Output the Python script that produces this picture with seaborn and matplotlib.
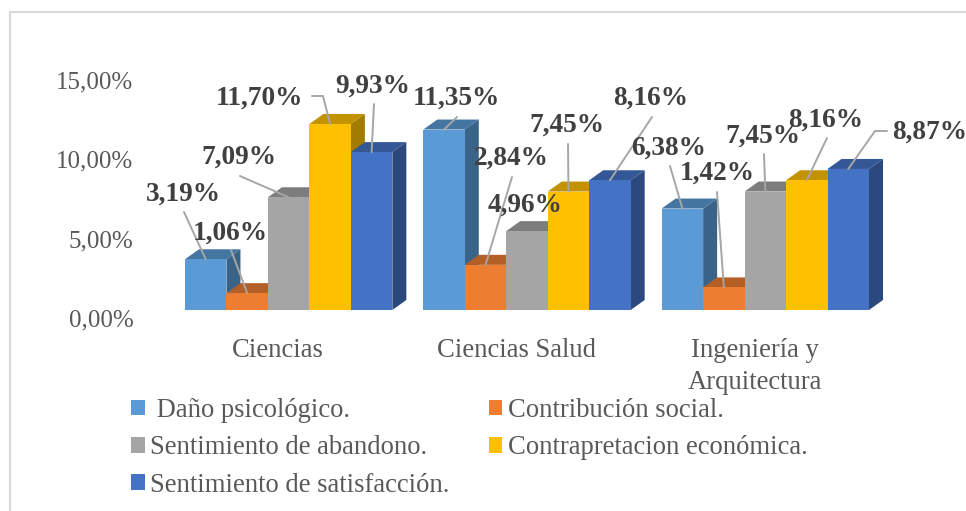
import matplotlib
matplotlib.use("Agg")
import matplotlib.pyplot as plt
import pandas as pd
import seaborn as sns
from matplotlib.lines import Line2D
from matplotlib.patches import Patch, Polygon
from matplotlib.transforms import IdentityTransform, ScaledTranslation

categories = ["Ciencias", "Ciencias Salud", "Ingeniería y\nArquitectura"]
series_names = ["Daño psicológico.", "Contribución social.", "Sentimiento de abandono.",
                "Contrapretacion económica.", "Sentimiento de satisfacción."]
dano = [3.19, 11.35, 6.38]
contribucion = [1.06, 2.84, 1.42]
abandono = [7.09, 4.96, 7.45]
contraprestacion = [11.70, 7.45, 8.16]
satisfaccion = [9.93, 8.16, 8.87]
y_ticks = [0, 5, 10, 15]
y_tick_labels = ["0,00%", "5,00%", "10,00%", "15,00%"]

colors = ["#5B9BD5", "#ED7D31", "#A5A5A5", "#FFC000", "#4472C4"]

W, H = 966, 511
FONT = "Liberation Serif"

sns.set_theme(style="white")
plt.rcParams["font.family"] = [FONT, "DejaVu Sans"]

df = pd.DataFrame({"cat": categories, series_names[0]: dano, series_names[1]: contribucion,
                   series_names[2]: abandono, series_names[3]: contraprestacion,
                   series_names[4]: satisfaccion})
long_df = df.melt(id_vars="cat", var_name="serie", value_name="valor")

fig = plt.figure(figsize=(W / 100, H / 100), dpi=100, facecolor="white")
ax = fig.add_axes([169.5 / W, (H - 310) / H, 715 / W, 238.5 / H])
sns.barplot(data=long_df, x="cat", y="valor", hue="serie", hue_order=series_names,
            order=categories, palette=colors, saturation=1, width=0.87, gap=0,
            legend=False, linewidth=0, ax=ax)
ax.set_xlim(-0.5, 2.5)
ax.set_ylim(0, 15)
ax.set_xlabel("")
ax.set_ylabel("")
sns.despine(ax=ax, left=True, bottom=True)
ax.set_yticks(y_ticks, y_tick_labels)
ax.tick_params(axis="both", length=0, labelcolor="#595959")
ax.tick_params(axis="y", pad=26, labelsize=18)
ax.tick_params(axis="x", pad=20, labelsize=19.2)
ax.patch.set_alpha(0)


# Shift tick labels the way the 3D floor does in the original
def shift(labels, dx, dy):
    for lab in labels:
        lab.set_transform(lab.get_transform() + ScaledTranslation(dx / 100, dy / 100, fig.dpi_scale_trans))


shift(ax.get_yticklabels(), 0, -8.2)
shift(ax.get_xticklabels(), -10.5, 0)
for lab in ax.get_xticklabels():
    lab.set_linespacing(1.38)


def darker(color, k):
    r, g, b = matplotlib.colors.to_rgb(color)
    return (r * k, g * k, b * k)


# Fake depth: side and top faces built from every bar that seaborn drew
px_x = ax.transData.transform((1, 0))[0] - ax.transData.transform((0, 0))[0]
px_y = ax.transData.transform((0, 1))[1] - ax.transData.transform((0, 0))[1]
dx = 14 / px_x
dy = 10 / px_y
for i, cont in enumerate(ax.containers):
    for bar in cont:
        x0, w, h = bar.get_x(), bar.get_width(), bar.get_height()
        bar.set_zorder(3 + i * 3 + 2)
        top = [(x0, h), (x0 + dx, h + dy), (x0 + w + dx, h + dy), (x0 + w, h)]
        side = [(x0 + w, 0), (x0 + w + dx, dy), (x0 + w + dx, h + dy), (x0 + w, h)]
        ax.add_patch(Polygon(top, closed=True, fc=darker(colors[i], 0.76), ec="none", zorder=3 + i * 3, clip_on=False))
        ax.add_patch(Polygon(side, closed=True, fc=darker(colors[i], 0.64), ec="none", zorder=3 + i * 3 + 1, clip_on=False))

# Label layout in image pixels, by series then category
label_pos = [[(183, 194), (456, 98), (669, 148)],
             [(230, 233), (511, 158), (717, 173)],
             [(239, 157), (525, 205), (763, 136)],
             [(259, 98), (567, 125), (826, 120)],
             [(373, 86), (651, 98), (930, 132)]]
leader_start = [[(184, 212), (457, 117), (670, 166)],
                [(231, 250), (512, 177), (717, 192)],
                [(240, 176), None, (764, 154)],
                [(312, 96), (568, 144), (827, 138)],
                [(374, 104), (652, 117), (887, 131)]]
leader_elbow = {(3, 0): (323, 96), (4, 2): (875, 131)}

fig.canvas.draw()
for i, cont in enumerate(ax.containers):
    for j, bar in enumerate(cont):
        value = bar.get_height()
        tx, ty = label_pos[i][j]
        fig.text(tx / W, 1 - ty / H, f"{value:.2f}%".replace(".", ","), ha="center", va="center",
                 fontsize=19.7, fontweight="bold", color="#404040", zorder=6)
        start = leader_start[i][j]
        if start is None:
            continue
        end = ax.transData.transform((bar.get_x() + bar.get_width() / 2, value))
        pts = [(start[0], H - start[1])]
        if (i, j) in leader_elbow:
            ex, ey = leader_elbow[(i, j)]
            pts.append((ex, H - ey))
        pts.append((end[0], end[1]))
        fig.add_artist(Line2D([p[0] for p in pts], [p[1] for p in pts], color="#A6A6A6", lw=1.4,
                              transform=IdentityTransform(), zorder=5))

# Legend: filled row by row in the original
order = [0, 2, 4, 1, 3]
handles = [Patch(fc=colors[k], ec="none") for k in order]
names = [series_names[k] for k in order]
names[0] = " " + names[0]
leg = fig.legend(handles, names, ncols=2, loc="upper left", bbox_to_anchor=(131 / W, 1 - 398 / H),
                 frameon=False, fontsize=19.2, labelcolor="#595959", handlelength=0.52, handleheight=0.52,
                 handletextpad=0.2, columnspacing=1.46, labelspacing=0.46, borderpad=0, borderaxespad=0)

# Chart frame
frame = "#D9D9D9"
fig.add_artist(Line2D([10 / W, 10 / W, 1], [0, 1 - 12.5 / H, 1 - 12.5 / H], color=frame, lw=1.5))

fig.savefig("out.png")
